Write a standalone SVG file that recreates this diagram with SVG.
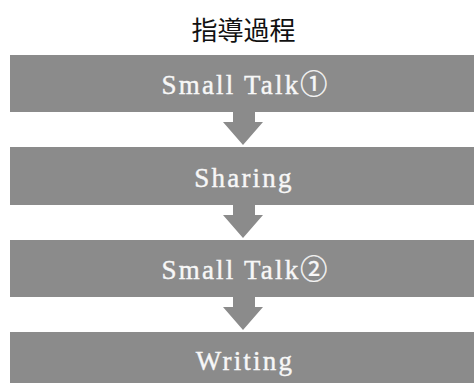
<svg xmlns="http://www.w3.org/2000/svg" width="474" height="383" viewBox="0 0 474 383">
<style>
.box{fill:#8b8b8b}
.arr{fill:#8b8b8b}
.lbl{font-family:"Liberation Serif","Noto Sans CJK JP",serif;font-size:27px;fill:#f7f7f7;stroke:#f7f7f7;stroke-width:0.4px;text-anchor:middle;letter-spacing:2.2px}
.title{font-family:"Noto Sans CJK JP",sans-serif;font-size:26px;fill:#111;text-anchor:middle}
</style>
<rect width="474" height="383" fill="#fff"/>
<text class="title" x="243.5" y="40">指導過程</text>
<g id="n1"><rect class="box" x="10" y="55" width="464" height="57"/><text class="lbl" x="245.5" y="94">Small Talk①</text></g>
<g id="n2"><rect class="box" x="10" y="147" width="464" height="58"/><text class="lbl" x="244" y="187">Sharing</text></g>
<g id="n3"><rect class="box" x="10" y="240" width="464" height="57"/><text class="lbl" x="245.5" y="279">Small Talk②</text></g>
<g id="n4"><rect class="box" x="10" y="332" width="464" height="51"/><text class="lbl" x="245" y="370">Writing</text></g>
<g id="connectors">
<polygon class="arr" points="233,112 255,112 255,122 263,122 243,145 223,122 233,122"/>
<polygon class="arr" points="233,205 255,205 255,215 263,215 243,238 223,215 233,215"/>
<polygon class="arr" points="233,297 255,297 255,307 263,307 243,330 223,307 233,307"/>
</g>
</svg>
